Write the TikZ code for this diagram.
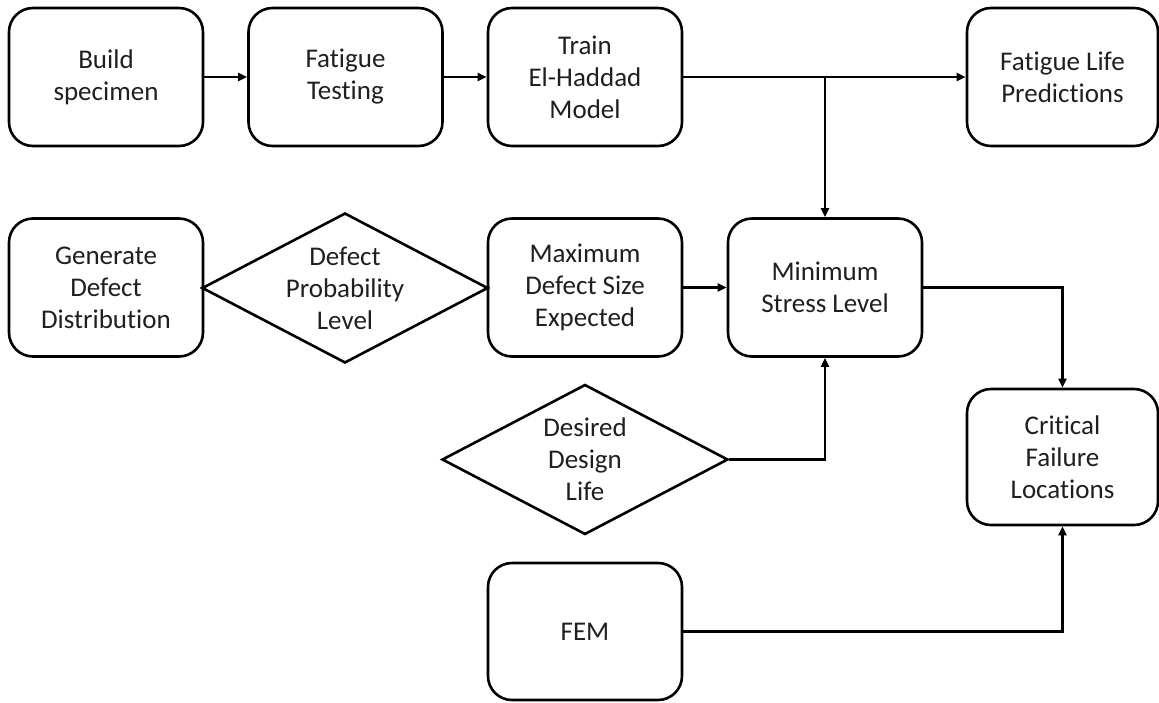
\documentclass[tikz,border=0pt]{standalone}
\usepackage{fontspec}
\setmainfont{Carlito}[Ligatures={NoCommon}]
\usetikzlibrary{shapes.geometric,arrows.meta}
\begin{document}
\begin{tikzpicture}[x=1pt,y=-1pt,
  every node/.style={font=\fontsize{27}{32}\selectfont, align=center, text=black!88},
  procbox/.style={draw, line width=2.6pt, rounded corners=24pt,
    minimum width=194pt, minimum height=138pt, inner sep=0pt},
  decision/.style={draw, diamond, line width=2.6pt,
    minimum width=286pt, minimum height=150pt, inner sep=0pt},
  flow/.style={line width=2.6pt, -{Triangle[length=9pt,width=8pt]}},
  link/.style={line width=2.6pt}]
\useasboundingbox (0,0) rectangle (1159,702);

% process boxes and decisions
\node[procbox] (build)   at (106,77)    {Build\\specimen};
\node[procbox] (fatigue) at (345.5,77)  {Fatigue\\Testing};
\node[procbox] (train)   at (585,77)    {Train\\El-Haddad\\Model};
\node[procbox, minimum width=191pt] (pred) at (1062.5,77) {Fatigue Life\\Predictions};

\node[procbox] (gen)     at (106,287.5) {Generate\\Defect\\Distribution};
\node[decision, label={[align=center]center:{Defect\\Probability\\Level}}] (prob) at (345,288) {};
\node[procbox] (maxd)    at (585,287.5) {Maximum\\Defect Size\\Expected};
\node[procbox] (minst)   at (825,287.5) {Minimum\\Stress Level};

\node[decision, label={[align=center]center:{Desired\\Design\\Life}}] (design) at (585,459.5) {};
\node[procbox, minimum width=191pt, minimum height=136pt] (crit) at (1062.5,457) {Critical\\Failure\\Locations};
\node[procbox, minimum height=137pt] (fem) at (585,631.5) {FEM};

% connectors
\draw[flow] (build.east) -- (fatigue.west);
\draw[flow] (fatigue.east) -- (train.west);
\draw[flow] (train.east) -- (pred.west);
\coordinate (split) at (minst.north |- train.east);
\draw[flow] (split) -- (minst.north);
\draw[link] (gen.east) -- (prob.west);
\draw[link] (prob.east) -- (maxd.west);
\draw[flow] (maxd.east) -- (minst.west);
\draw[flow] (minst.east) -| (crit.north);
\draw[flow] (design.east) -| (minst.south);
\draw[flow] (fem.east) -| (crit.south);
\end{tikzpicture}
\end{document}
